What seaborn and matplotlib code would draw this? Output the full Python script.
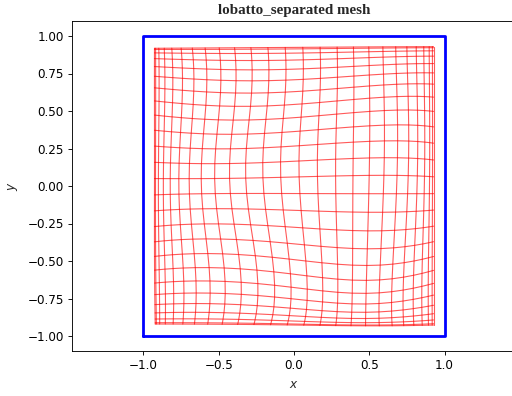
import numpy as np
import pandas as pd
import matplotlib
matplotlib.use("Agg")
import matplotlib.pyplot as plt
import seaborn as sns

# Gauss-Lobatto node positions on the reference interval (26 nodes per direction)
lobatto_nodes = [-1.000, -0.992, -0.969, -0.930, -0.876, -0.809, -0.729, -0.637,
                 -0.536, -0.426, -0.309, -0.187, -0.063, 0.063, 0.187, 0.309,
                 0.426, 0.536, 0.637, 0.729, 0.809, 0.876, 0.930, 0.969,
                 0.992, 1.000]
mesh_half_width = 0.927

# node displacement (data units) at control points of the reference square
ctrl_pos = [-1.0, -0.5, 0.0, 0.5, 1.0]
# rows: eta = +1, +0.5, 0, -0.5, -1 ; columns: xi = -1 ... +1
disp_x = [[0.000, 0.000, 0.000, 0.000, 0.000],
          [0.000, -0.010, -0.015, 0.005, 0.000],
          [0.000, -0.030, -0.025, 0.000, 0.000],
          [0.000, 0.020, 0.020, -0.010, 0.000],
          [0.005, 0.020, 0.010, -0.020, 0.000]]
disp_y = [[-0.009, -0.006, -0.003, 0.000, 0.002],
          [-0.024, -0.055, -0.040, 0.000, 0.000],
          [-0.005, 0.000, 0.005, 0.010, 0.005],
          [0.026, 0.043, 0.005, -0.030, 0.026],
          [0.007, 0.005, 0.000, -0.005, 0.000]]

# domain boundary (unit square)
box_x = [-1, 1, 1, -1, -1]
box_y = [-1, -1, 1, 1, -1]


def lagrange_weights(t, pts):
    pts = np.asarray(pts)
    w = np.ones((len(t), len(pts)))
    for k in range(len(pts)):
        for m in range(len(pts)):
            if m != k:
                w[:, k] *= (t - pts[m]) / (pts[k] - pts[m])
    return w


ref = np.array(lobatto_nodes)
xi_w = lagrange_weights(ref, ctrl_pos)           # columns: xi = -1 .. +1
eta_w = lagrange_weights(ref, ctrl_pos[::-1])    # columns: eta = +1 .. -1

XI, ETA = np.meshgrid(ref, ref)
X = XI * mesh_half_width + eta_w @ np.array(disp_x) @ xi_w.T
Y = ETA * mesh_half_width + eta_w @ np.array(disp_y) @ xi_w.T

rows = []
lid = 0
for j in range(X.shape[0]):          # lines of constant eta
    for i in range(X.shape[1]):
        rows.append((lid, i, X[j, i], Y[j, i]))
    lid += 1
for i in range(X.shape[1]):          # lines of constant xi
    for j in range(X.shape[0]):
        rows.append((lid, j, X[j, i], Y[j, i]))
    lid += 1
mesh_df = pd.DataFrame(rows, columns=["line", "order", "x", "y"])

sns.set_style("ticks")
plt.rcParams["font.family"] = ["DejaVu Sans"]

fig = plt.figure(figsize=(6.4, 4.95), dpi=80)
ax = fig.add_axes([72 / 512, 45 / 396, 444 / 512, 330 / 396])

sns.lineplot(data=mesh_df, x="x", y="y", units="line", estimator=None,
             sort=False, color="red", lw=1.0, alpha=0.65, ax=ax, legend=False)
ax.plot(box_x, box_y, color="blue", lw=2.5)

ax.set_xlim(-1.475, 1.475)
ax.set_ylim(-1.1, 1.1)
ax.set_xticks([-1.0, -0.5, 0.0, 0.5, 1.0])
ax.set_yticks([-1.0, -0.75, -0.5, -0.25, 0.0, 0.25, 0.5, 0.75, 1.0])
ax.set_xticklabels(["\u22121.0", "\u22120.5", "0.0", "0.5", "1.0"])
ax.set_yticklabels(["\u22121.00", "\u22120.75", "\u22120.50", "\u22120.25", "0.00",
                    "0.25", "0.50", "0.75", "1.00"])
ax.set_xlabel(r"$x$", fontsize=10.8, labelpad=5)
ax.set_ylabel(r"$y$", fontsize=10.8, labelpad=7)
ax.set_title("lobatto_separated mesh", family="Liberation Serif",
             fontweight="bold", fontsize=13.5)
for s in ax.spines.values():
    s.set_color("black")
ax.tick_params(colors="black", labelsize=10.8, length=4)

fig.savefig("out.png", dpi=80)
